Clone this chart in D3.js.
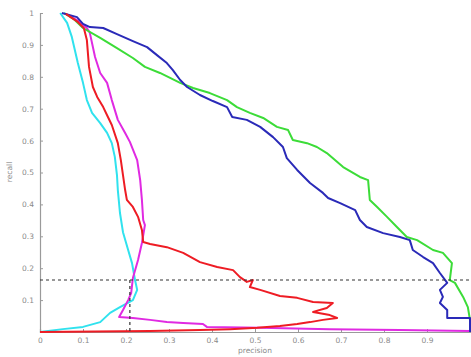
<!DOCTYPE html>
<html><head><meta charset="utf-8">
<script src="https://cdn.jsdelivr.net/npm/d3@7"></script>
<style>body{margin:0;background:#fff}svg{display:block}</style>
</head><body>
<svg id="c" width="471" height="357"></svg>
<script>
const xTicks = [0,0.1,0.2,0.3,0.4,0.5,0.6,0.7,0.8,0.9,1];
const xTickLabels = ["0","0.1","0.2","0.3","0.4","0.5","0.6","0.7","0.8","0.9",""];
const yTicks = [0,0.1,0.2,0.3,0.4,0.5,0.6,0.7,0.8,0.9,1];
const yTickLabels = ["","0.1","0.2","0.3","0.4","0.5","0.6","0.7","0.8","0.9","1"];

const cyanPrecision = [0.047,0.063,0.074,0.088,0.100,0.109,0.121,0.140,0.156,0.167,0.174,0.179,0.181,0.186,0.193,0.205,0.214,0.221,0.226,0.216,0.186,0.163,0.140,0.100,0.053,0];
const cyanRecall    = [1.0,0.969,0.925,0.843,0.781,0.727,0.687,0.655,0.624,0.592,0.549,0.492,0.445,0.373,0.313,0.257,0.216,0.163,0.132,0.100,0.078,0.060,0.031,0.016,0.009,0];

const magentaPrecision = [0.060,0.093,0.109,0.116,0.128,0.140,0.156,0.167,0.181,0.198,0.209,0.226,0.233,0.237,0.240,0.244,0.237,0.228,0.216,0.212,0.205,0.193,0.184,0.216,0.256,0.295,0.333,0.379,0.388,0.512,0.674,0.837,1.0];
const magentaRecall    = [0.997,0.972,0.953,0.937,0.862,0.812,0.781,0.727,0.665,0.624,0.596,0.539,0.476,0.414,0.351,0.335,0.279,0.226,0.169,0.122,0.100,0.069,0.047,0.044,0.038,0.031,0.028,0.025,0.016,0.013,0.009,0.006,0.003];

const redPrecision = [0.060,0.088,0.102,0.109,0.114,0.123,0.133,0.147,0.158,0.167,0.181,0.188,0.193,0.198,0.202,0.216,0.228,0.237,0.240,0.256,0.295,0.333,0.372,0.412,0.449,0.465,0.481,0.495,0.488,0.512,0.558,0.598,0.635,0.681,0.667,0.635,0.674,0.691,0.658,0.628,0.598,0.558,0.505,0.442,0.372,0.256,0];
const redRecall    = [0.997,0.972,0.953,0.915,0.831,0.768,0.737,0.705,0.674,0.649,0.592,0.539,0.492,0.445,0.414,0.392,0.361,0.320,0.282,0.276,0.266,0.248,0.219,0.204,0.194,0.172,0.157,0.163,0.141,0.132,0.113,0.107,0.094,0.091,0.075,0.063,0.053,0.044,0.038,0.031,0.025,0.019,0.013,0.009,0.006,0.003,0];

const greenPrecision = [0.056,0.081,0.100,0.140,0.179,0.216,0.244,0.279,0.326,0.356,0.395,0.435,0.458,0.488,0.519,0.551,0.577,0.588,0.621,0.644,0.667,0.705,0.744,0.763,0.767,0.784,0.807,0.830,0.853,0.877,0.914,0.937,0.958,0.953,0.965,0.984,0.995,1.0,1.0];
const greenRecall    = [1.0,0.978,0.953,0.922,0.890,0.859,0.831,0.812,0.781,0.765,0.749,0.727,0.705,0.687,0.671,0.643,0.633,0.602,0.592,0.580,0.561,0.517,0.486,0.476,0.414,0.392,0.361,0.329,0.298,0.288,0.257,0.248,0.216,0.163,0.154,0.110,0.078,0.038,0];

const bluePrecision = [0.051,0.086,0.100,0.116,0.147,0.179,0.216,0.249,0.272,0.295,0.309,0.326,0.342,0.372,0.402,0.435,0.447,0.481,0.512,0.542,0.565,0.574,0.598,0.628,0.658,0.670,0.698,0.733,0.744,0.760,0.798,0.837,0.860,0.867,0.891,0.914,0.930,0.947,0.930,0.937,0.930,0.947,0.947,1.0,1.0];
const blueRecall    = [1.0,0.987,0.966,0.956,0.953,0.934,0.912,0.893,0.868,0.843,0.821,0.790,0.768,0.743,0.724,0.705,0.674,0.665,0.643,0.611,0.580,0.545,0.508,0.467,0.436,0.420,0.404,0.382,0.351,0.329,0.310,0.298,0.288,0.257,0.235,0.216,0.185,0.154,0.132,0.110,0.091,0.069,0.044,0.044,0];

const operatingRecall = [0.163];
const operatingPrecision = [0.209];

const svg = d3.select("#c");
const x = d3.scaleLinear().domain([0,1]).range([40,470]);
const y = d3.scaleLinear().domain([0,1]).range([332,13]);
const gray = "#9a9a9a";
const font = "DejaVu Sans, sans-serif";

const xAxis = d3.axisBottom(x).tickValues(xTicks).tickSize(-3).tickPadding(6)
  .tickFormat((d,i)=>xTickLabels[i]);
const yAxis = d3.axisLeft(y).tickValues(yTicks).tickSize(-3).tickPadding(6)
  .tickFormat((d,i)=>yTickLabels[i]);
const gx = svg.append("g").attr("transform","translate(0,332)").call(xAxis);
const gy = svg.append("g").attr("transform","translate(40,0)").call(yAxis);
[gx,gy].forEach(g=>{
  g.select(".domain").attr("stroke",gray).attr("stroke-width",1.2);
  g.selectAll(".tick line").attr("stroke",gray);
  g.selectAll("text").attr("fill","#8a8a8a").style("font-family",font).style("font-size","7.5px");
});

svg.append("text").attr("x",255).attr("y",353).attr("text-anchor","middle")
  .attr("fill","#8a8a8a").style("font-family",font).style("font-size","7.5px").text("precision");
svg.append("text").attr("transform","translate(12,172) rotate(-90)").attr("text-anchor","middle")
  .attr("fill","#8a8a8a").style("font-family",font).style("font-size","7.5px").text("recall");

const line = d3.line().x(d=>x(d[0])).y(d=>y(d[1]));
const series = [
  {p:cyanPrecision, r:cyanRecall, c:"#30e2ee"},
  {p:magentaPrecision, r:magentaRecall, c:"#e02ae2"},
  {p:greenPrecision, r:greenRecall, c:"#3cdc38"},
  {p:bluePrecision, r:blueRecall, c:"#2a2ab8"},
  {p:redPrecision, r:redRecall, c:"#ee1c24"}
];
series.forEach(s=>{
  svg.append("path").datum(s.p.map((v,i)=>[v,s.r[i]]))
    .attr("d",line).attr("fill","none").attr("stroke",s.c)
    .attr("stroke-width",2).attr("stroke-linejoin","round");
});

svg.append("line").attr("x1",x(0)).attr("x2",x(1)).attr("y1",y(operatingRecall[0])).attr("y2",y(operatingRecall[0]))
  .attr("stroke","#333").attr("stroke-width",1.2).attr("stroke-dasharray","3,3");
svg.append("line").attr("x1",x(operatingPrecision[0])).attr("x2",x(operatingPrecision[0])).attr("y1",y(operatingRecall[0])).attr("y2",y(0))
  .attr("stroke","#333").attr("stroke-width",1.2).attr("stroke-dasharray","3,3");
</script>
</body></html>
